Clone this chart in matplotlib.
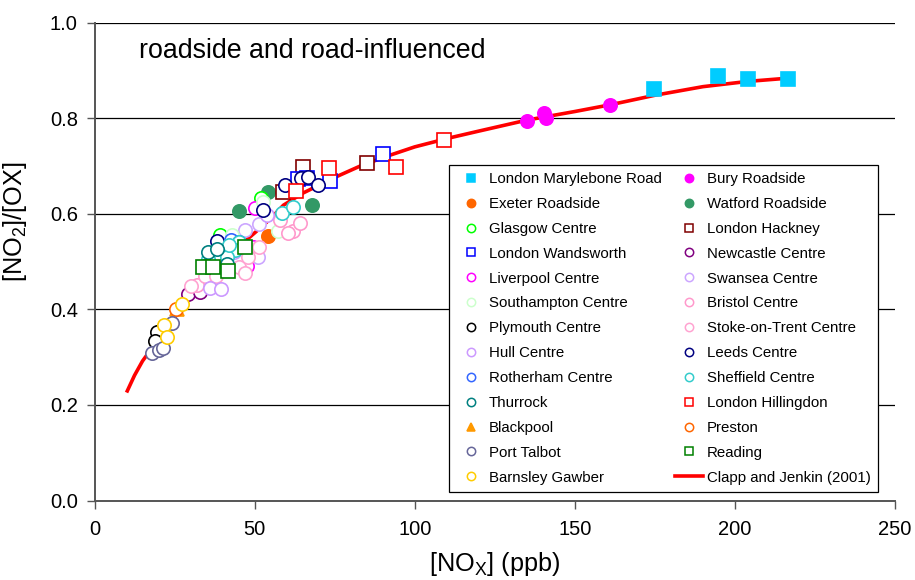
import matplotlib
matplotlib.use("Agg")
import matplotlib.pyplot as plt
from matplotlib.lines import Line2D

plt.rcParams['font.family'] = ['Liberation Sans', 'DejaVu Sans']
plt.rcParams['mathtext.fontset'] = 'custom'
plt.rcParams['mathtext.rm'] = 'Liberation Sans'

# ---- site data: NOx (ppb) and NO2/OX ratio ----
marylebone_x = [174.8, 194.8, 204.2, 216.7]
marylebone_y = [0.862, 0.889, 0.881, 0.883]
bury_x = [135.0, 140.5, 141.0, 161.0]
bury_y = [0.795, 0.810, 0.800, 0.828]
exeter_x = [54.2]
exeter_y = [0.553]
watford_x = [45.0, 54.2, 68.0]
watford_y = [0.606, 0.645, 0.618]
glasgow_x = [39.2, 52.0]
glasgow_y = [0.556, 0.633]
hackney_x = [65.2, 58.9, 85.1]
hackney_y = [0.698, 0.645, 0.706]
wandsworth_x = [63.4, 66.5, 73.6, 90.2]
wandsworth_y = [0.672, 0.675, 0.668, 0.726]
newcastle_x = [29.2, 33.0]
newcastle_y = [0.432, 0.436]
liverpool_x = [50.2, 49.5, 47.5]
liverpool_y = [0.612, 0.530, 0.490]
swansea_x = [47.0, 51.5, 51.0]
swansea_y = [0.567, 0.578, 0.510]
southampton_x = [43.0, 52.5, 57.2]
southampton_y = [0.555, 0.625, 0.563]
bristol_x = [62.0, 64.2, 60.5, 57.8, 32.0, 36.0]
bristol_y = [0.563, 0.581, 0.560, 0.586, 0.450, 0.465]
plymouth_x = [19.5, 18.9]
plymouth_y = [0.353, 0.333]
stoke_x = [30.0, 34.5, 38.0, 45.0, 48.0, 47.0, 51.5]
stoke_y = [0.448, 0.470, 0.470, 0.489, 0.510, 0.477, 0.530]
hull_x = [36.0, 39.5, 54.0, 43.5]
hull_y = [0.445, 0.442, 0.598, 0.520]
leeds_x = [52.7, 59.5, 64.4, 66.8, 69.8, 38.2]
leeds_y = [0.608, 0.661, 0.675, 0.678, 0.661, 0.544]
rotherham_x = [42.5, 45.0]
rotherham_y = [0.545, 0.540]
sheffield_x = [58.6, 62.0, 45.0, 44.0, 41.5, 35.5, 42.0]
sheffield_y = [0.602, 0.615, 0.540, 0.525, 0.510, 0.505, 0.535]
thurrock_x = [35.5, 38.4, 34.5, 41.4]
thurrock_y = [0.520, 0.527, 0.490, 0.494]
hillingdon_x = [63.0, 73.3, 94.2, 109.0]
hillingdon_y = [0.648, 0.696, 0.698, 0.755]
blackpool_x = [25.8]
blackpool_y = [0.400]
preston_x = [25.5]
preston_y = [0.401]
port_talbot_x = [18.0, 20.0, 21.5, 24.2]
port_talbot_y = [0.308, 0.316, 0.320, 0.372]
reading_x = [34.0, 37.0, 41.7, 47.0]
reading_y = [0.488, 0.489, 0.481, 0.531]
barnsley_x = [21.7, 22.6, 27.3]
barnsley_y = [0.367, 0.342, 0.411]

# Clapp and Jenkin (2001) relationship
fit_nox = [10, 12.5, 15, 20, 25, 30, 35, 40, 45, 50, 55, 59, 65, 75, 83, 92,
           100, 111, 120, 135, 150, 161, 175, 190, 204, 217]
fit_ratio = [0.226, 0.262, 0.292, 0.338, 0.383, 0.426, 0.466, 0.500, 0.531,
             0.560, 0.590, 0.618, 0.643, 0.676, 0.700, 0.722, 0.740, 0.759,
             0.773, 0.796, 0.814, 0.828, 0.848, 0.866, 0.877, 0.884]

# (label, x, y, marker, colour, filled)
series = [
    ("London Marylebone Road", marylebone_x, marylebone_y, "s", "#00CCFF", True),
    ("Bury Roadside", bury_x, bury_y, "o", "#FF00FF", True),
    ("Exeter Roadside", exeter_x, exeter_y, "o", "#FF6600", True),
    ("Watford Roadside", watford_x, watford_y, "o", "#339966", True),
    ("Glasgow Centre", glasgow_x, glasgow_y, "o", "#00FF00", False),
    ("London Hackney", hackney_x, hackney_y, "s", "#800000", False),
    ("London Wandsworth", wandsworth_x, wandsworth_y, "s", "#0000FF", False),
    ("Newcastle Centre", newcastle_x, newcastle_y, "o", "#800080", False),
    ("Liverpool Centre", liverpool_x, liverpool_y, "o", "#FF00FF", False),
    ("Swansea Centre", swansea_x, swansea_y, "o", "#CCA6FF", False),
    ("Southampton Centre", southampton_x, southampton_y, "o", "#CCFFCC", False),
    ("Bristol Centre", bristol_x, bristol_y, "o", "#FF99CC", False),
    ("Plymouth Centre", plymouth_x, plymouth_y, "o", "#000000", False),
    ("Stoke-on-Trent Centre", stoke_x, stoke_y, "o", "#FFA3D1", False),
    ("Hull Centre", hull_x, hull_y, "o", "#CC99FF", False),
    ("Leeds Centre", leeds_x, leeds_y, "o", "#000080", False),
    ("Rotherham Centre", rotherham_x, rotherham_y, "o", "#3366FF", False),
    ("Sheffield Centre", sheffield_x, sheffield_y, "o", "#33CCCC", False),
    ("Thurrock", thurrock_x, thurrock_y, "o", "#008080", False),
    ("London Hillingdon", hillingdon_x, hillingdon_y, "s", "#FF0000", False),
    ("Blackpool", blackpool_x, blackpool_y, "^", "#FF9900", True),
    ("Preston", preston_x, preston_y, "o", "#FF6600", False),
    ("Port Talbot", port_talbot_x, port_talbot_y, "o", "#666699", False),
    ("Reading", reading_x, reading_y, "s", "#008000", False),
    ("Barnsley Gawber", barnsley_x, barnsley_y, "o", "#FFCC00", False),
]

fig = plt.figure(figsize=(9.15, 5.8), dpi=100)
ax = fig.add_axes([0.1033, 0.137, 0.8749, 0.824])

ax.plot(fit_nox, fit_ratio, color="#FF0000", lw=2.6, zorder=2,
        solid_capstyle="butt")

handles = {}
for i, (lab, xs, ys, mk, col, filled) in enumerate(series):
    ms = 9.6 if mk == "o" else 10.0
    face = col if filled else "white"
    ax.plot(xs, ys, linestyle="none", marker=mk, ms=ms, mfc=face, mec=col,
            mew=1.2, zorder=3 + i * 0.01)
    handles[lab] = Line2D([], [], linestyle="none", marker=mk, ms=6.0,
                          mfc=face, mec=col, mew=1.1)
handles["Clapp and Jenkin (2001)"] = Line2D([], [], color="#FF0000", lw=2.6)

left_col = ["London Marylebone Road", "Exeter Roadside", "Glasgow Centre",
            "London Wandsworth", "Liverpool Centre", "Southampton Centre",
            "Plymouth Centre", "Hull Centre", "Rotherham Centre", "Thurrock",
            "Blackpool", "Port Talbot", "Barnsley Gawber"]
right_col = ["Bury Roadside", "Watford Roadside", "London Hackney",
             "Newcastle Centre", "Swansea Centre", "Bristol Centre",
             "Stoke-on-Trent Centre", "Leeds Centre", "Sheffield Centre",
             "London Hillingdon", "Preston", "Reading",
             "Clapp and Jenkin (2001)"]
order = left_col + right_col

leg = ax.legend([handles[k] for k in order], order, ncol=2,
                loc="upper left", bbox_to_anchor=(0.443, 0.703),
                fontsize=10.8, frameon=True, fancybox=False,
                edgecolor="black", framealpha=1, borderaxespad=0,
                borderpad=0.5, labelspacing=0.725, handlelength=1.9,
                handletextpad=0.25, columnspacing=0.85)
leg.get_frame().set_linewidth(0.9)
leg.set_zorder(10)

ax.set_xlim(0, 250)
ax.set_ylim(0, 1.0)
ax.set_xticks([0, 50, 100, 150, 200, 250])
ax.set_yticks([0.0, 0.2, 0.4, 0.6, 0.8, 1.0])
ax.set_yticklabels(["0.0", "0.2", "0.4", "0.6", "0.8", "1.0"])
ax.tick_params(axis="both", labelsize=14.5, direction="out", length=6,
               width=1, color="#555555")
ax.tick_params(axis="x", pad=8)
ax.tick_params(axis="y", pad=6)

for y in [0.2, 0.4, 0.6, 0.8, 1.0]:
    ax.axhline(y, color="black", lw=0.9, zorder=1)

for s in ["top", "right"]:
    ax.spines[s].set_visible(False)
for s in ["left", "bottom"]:
    ax.spines[s].set_color("#555555")
    ax.spines[s].set_linewidth(1.4)

ax.set_xlabel(r"[NO$_\mathregular{X}$] (ppb)", fontsize=18.2, labelpad=8)
ax.set_ylabel(r"[NO$_\mathregular{2}$]/[OX]", fontsize=18.2)
ax.yaxis.set_label_coords(-0.082, 0.583)

ax.text(0.056, 0.94, "roadside and road-influenced", transform=ax.transAxes,
        fontsize=19.3, ha="left", va="center")

fig.savefig("out.png", dpi=100)
